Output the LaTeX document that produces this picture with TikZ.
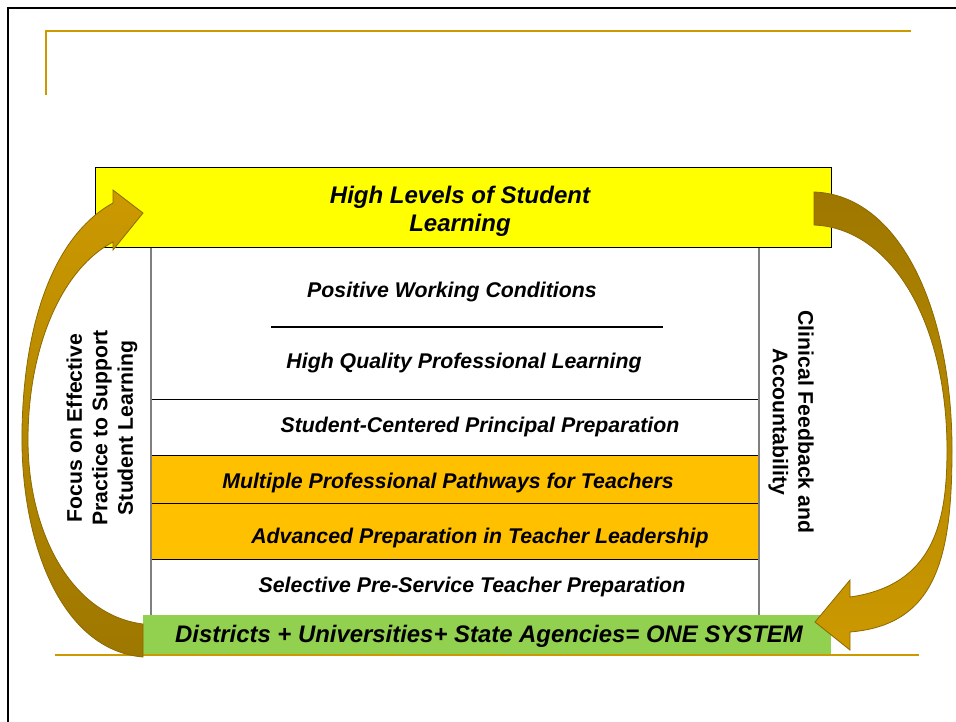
\documentclass[tikz,border=0pt]{standalone}
\usepackage{fontspec}
\setmainfont{Liberation Sans}
\definecolor{goldline}{HTML}{CC9900}
\definecolor{arrowgold}{HTML}{CC9900}
\definecolor{arrowdark}{HTML}{9E7700}
\definecolor{arrowedge}{HTML}{8C6A00}
\definecolor{hlyellow}{HTML}{FFFF00}
\definecolor{roworange}{HTML}{FFC000}
\definecolor{sysgreen}{HTML}{92D050}
\definecolor{sidegray}{HTML}{7F7F7F}
\begin{document}
\begin{tikzpicture}[x=1pt,y=-1pt,
  rowbox/.style={draw=none, inner sep=0, minimum width=608pt},
  rowtext/.style={font=\fontsize{21.3}{24}\selectfont\bfseries\itshape, inner sep=0},
  sidetext/.style={font=\fontsize{21.2}{25.5}\selectfont\bfseries, align=center, inner sep=0},
  rowline/.style={black, line width=0.9pt},
  curvearrow/.style={draw=arrowedge, line width=0.8pt}]
\useasboundingbox (0,0) rectangle (956,721);
\fill[white] (0,0) rectangle (956,721);

% slide frame and gold rules
\draw[line width=2.5pt] (8,722) -- (8,8) -- (957,8);
\draw[goldline, line width=2pt] (46,95) -- (46,31) -- (911,31);

% table rows
\node[rowbox, minimum height=80pt] (r1) at (455,287) {};
\node[rowbox, minimum height=72pt] (r2) at (455,363) {};
\node[rowbox, minimum height=56pt] (r3) at (455,427) {};
\node[rowbox, fill=roworange, minimum height=48pt] (r4) at (455,479) {};
\node[rowbox, fill=roworange, minimum height=56pt] (r5) at (455,531) {};
\node[rowbox, minimum height=56pt] (r6) at (455,587) {};

\draw[black, line width=1.8pt] (271,327) -- (663,327);
\draw[rowline] (r2.south west) -- (r2.south east);
\draw[rowline] (r3.south west) -- (r3.south east);
\draw[rowline] (r4.south west) -- (r4.south east);
\draw[rowline] (r5.south west) -- (r5.south east);
\draw[sidegray, line width=1.5pt] (r1.north west) -- (r6.south west);
\draw[sidegray, line width=1.5pt] (r1.north east) -- (r6.south east);

\node[rowtext] (t1) at (452,292) {Positive Working Conditions};
\node[rowtext] (t2) at (464,363) {High Quality Professional Learning};
\node[rowtext] (t3) at (480,427) {Student-Centered Principal Preparation};
\node[rowtext] (t4) at (448,483) {Multiple Professional Pathways for Teachers};
\node[rowtext] (t5) at (480,538) {Advanced Preparation in Teacher Leadership};
\node[rowtext] (t6) at (472,587) {Selective Pre-Service Teacher Preparation};

% top and bottom boxes
\node[draw=black, line width=0.9pt, fill=hlyellow, inner sep=0, minimum width=736pt, minimum height=80pt] (top) at (463,207) {};
\node[font=\fontsize{24}{28}\selectfont\bfseries\itshape, align=center, inner sep=0] (toptext) at (460,211.5) {High Levels of Student\\Learning};

\node[fill=sysgreen, inner sep=0, minimum width=688pt, minimum height=39pt] (sys) at (487,634.5) {};
\node[font=\fontsize{23.9}{27}\selectfont\bfseries\itshape, inner sep=0] (systext) at (489,636.5) {Districts + Universities+ State Agencies= ONE SYSTEM};

\draw[goldline, line width=2.5pt] (55,655) -- (919,655);

% side labels
\node[sidetext, rotate=90] (left) at (102,428) {Focus on Effective\\Practice to Support\\Student Learning};
\node[sidetext, rotate=-90] (right) at (791,422) {Clinical Feedback and\\Accountability};

% curved arrows
\draw[curvearrow, bottom color=arrowdark, top color=arrowgold]
 (143,657) .. controls (60,650) and (20,540) .. (22,430)
 .. controls (24,320) and (55,235) .. (113,203)
 -- (113,190) -- (143,213) -- (113,250) -- (113,242)
 .. controls (60,270) and (28,350) .. (28,440)
 .. controls (28,530) and (70,615) .. (143,624) -- cycle;

\draw[curvearrow, top color=arrowdark, bottom color=arrowgold]
 (814,192) .. controls (900,195) and (952,310) .. (952,450)
 .. controls (952,560) and (935,625) .. (850,632)
 -- (850,650) -- (815,622) -- (850,580) -- (850,597)
 .. controls (935,585) and (947,520) .. (947,450)
 .. controls (947,320) and (890,228) .. (814,225) -- cycle;
\end{tikzpicture}
\end{document}
